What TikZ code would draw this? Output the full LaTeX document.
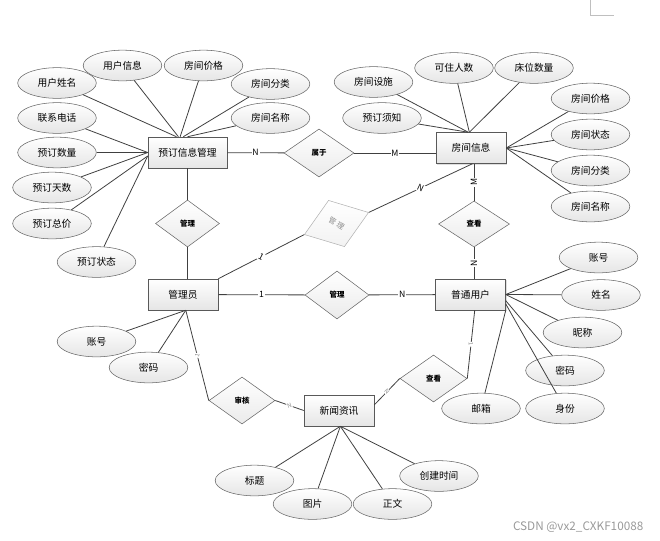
\documentclass[tikz,border=0pt]{standalone}
\usepackage{fontspec}
\setmainfont{Noto Sans CJK SC}
\usetikzlibrary{shapes.geometric,shadows}

\begin{document}
\begin{tikzpicture}[x=0.75pt,y=0.75pt,yscale=-1,xscale=1,
  entity/.style={draw=black!65, top color=white, bottom color=black!10, minimum width=52.5pt, minimum height=23.25pt, inner sep=0pt, font=\fontsize{7.3}{8}\selectfont, drop shadow={opacity=0.25,shadow xshift=0.8pt,shadow yshift=-0.8pt}},
  attrib/.style={ellipse, draw=black!60, top color=white, bottom color=black!10, minimum width=59pt, minimum height=23pt, inner sep=0pt, font=\fontsize{7.3}{8}\selectfont},
  relation/.style={diamond, draw=black!60, top color=white, bottom color=black!8, inner sep=0pt, minimum width=48pt, minimum height=35.25pt, font=\fontsize{5.6}{6}\selectfont\bfseries},
  conn/.style={draw=black!75, line width=0.6pt},
  card/.style={fill=white, inner sep=0.6pt, font=\fontsize{6.5}{7}\selectfont},
  gcard/.style={fill=white, inner sep=0.4pt, text=black!45, font=\fontsize{4.5}{5}\selectfont},
]
%uncomment if require: \path (0,540); %set diagram left start at 0, and has height of 540
\useasboundingbox (0,0) rectangle (660,540);

%Shape: corner mark
\draw [color=black!25, line width=0.75] (590,0) -- (590,15) -- (614,15);

% Entities
\node [entity, minimum width=59.25pt] (ydgl) at (187.5,152.5) {预订信息管理};
\node [entity] (fjxx) at (471,148) {房间信息};
\node [entity] (gly) at (183,294.5) {管理员};
\node [entity] (ptyh) at (470.5,294.5) {普通用户};
\node [entity] (xwzx) at (339,410.5) {新闻资讯};

% Relations
\node [relation, minimum width=52.5pt, minimum height=36pt] (sy) at (319,153) {属于};
\node [relation] (gl1) at (187.5,223.5) {管理};
\node [relation, minimum height=36pt] (gl3) at (337,295) {管理};
\node [relation, minimum width=53.25pt, minimum height=34.5pt] (ck1) at (474,224) {查看};
\node [relation, minimum width=49.5pt] (sh) at (242,400.5) {审核};
\node [relation, minimum width=50.25pt] (ck2) at (433.5,378.5) {查看};
\node [relation, draw=black!30, top color=white, bottom color=black!5, rotate=19, minimum width=51pt, minimum height=36.75pt, text=black!45, font=\fontsize{5.6}{6}\selectfont] (gl2) at (336.5,223.5) {\rotatebox{-49}{管\hspace{1.2pt}理}};

% Attributes of 预订信息管理
\node [attrib] (yhxm) at (57,83) {用户姓名};
\node [attrib] (yhxx) at (122.5,65.5) {用户信息};
\node [attrib] (fjjga) at (203.5,65.5) {房间价格};
\node [attrib] (fjfla) at (270.5,84) {房间分类};
\node [attrib] (fjmca) at (270.5,118) {房间名称};
\node [attrib] (lxdh) at (57,118) {联系电话};
\node [attrib] (ydsl) at (57,152.5) {预订数量};
\node [attrib] (ydts) at (52,187.5) {预订天数};
\node [attrib] (ydzj) at (52,223.5) {预订总价};
\node [attrib] (ydzt) at (96.5,262) {预订状态};

% Attributes of 房间信息
\node [attrib] (fjss) at (373.5,82) {房间设施};
\node [attrib] (kzrs) at (454,68) {可住人数};
\node [attrib] (cwsl) at (534,68) {床位数量};
\node [attrib] (ydxz) at (382,118) {预订须知};
\node [attrib] (fjjgb) at (590.5,98.5) {房间价格};
\node [attrib] (fjzt) at (590.5,134.5) {房间状态};
\node [attrib] (fjflb) at (590.5,170.5) {房间分类};
\node [attrib] (fjmcb) at (590.5,206.5) {房间名称};

% Attributes of 普通用户
\node [attrib] (zhb) at (598.5,257.5) {账号};
\node [attrib] (xm) at (601,295) {姓名};
\node [attrib] (nc) at (582.5,332.5) {昵称};
\node [attrib] (mmb) at (565,370.5) {密码};
\node [attrib] (sf) at (565,408.5) {身份};
\node [attrib] (yx) at (481,408.5) {邮箱};

% Attributes of 管理员
\node [attrib] (zha) at (96.5,341.5) {账号};
\node [attrib] (mma) at (148.5,367.5) {密码};

% Attributes of 新闻资讯
\node [attrib] (bt) at (254.5,480.5) {标题};
\node [attrib] (tp) at (312.5,504) {图片};
\node [attrib] (zw) at (392.5,504) {正文};
\node [attrib] (cjsj) at (439,476) {创建时间};

% Relation lines
\draw [conn] (ydgl) -- node [card] {N} (sy);
\draw [conn] (sy) -- node [card] {M} (sy -| fjxx.west);
\draw [conn] (ydgl) -- (gl1);
\draw [conn] (gl1) -- (gl1 |- gly.north);
\draw [conn] (gly.north east) -- node [card, sloped] {1} (gl2.west);
\draw [conn] (gl2.east) -- node [card, sloped] {N} (fjxx.-85);
\draw [conn] (gly) -- node [card] {1} (gl3);
\draw [conn] (gl3) -- node [card] {N} (ptyh);
\draw [conn] (ck1 |- fjxx.south) -- node [card, rotate=90] {M} (ck1);
\draw [conn] (ck1) -- node [card, rotate=90] {N} (ck1 |- ptyh.north);
\draw [conn] (gly.-80) -- node [gcard, sloped] {1} (sh.west);
\draw [conn] (sh.east) -- node [gcard, sloped] {N} (xwzx.west);
\draw [conn] (ck2.east) -- node [gcard, sloped] {1} (ptyh.-75);
\draw [conn] (ck2.west) -- node [gcard, sloped] {N} (xwzx.9);

% Attribute lines
\foreach \a/\b in {yhxm/125, yhxx/120, fjjga/115, fjfla/105, fjmca/90, lxdh/180, ydsl/180, ydts/180, ydzj/185, ydzt/185}
  \draw [conn] (\a) -- (ydgl.\b);
\foreach \a/\b in {fjss/100, ydxz/100, kzrs/96, cwsl/96, fjjgb/0, fjzt/0, fjflb/0, fjmcb/0}
  \draw [conn] (\a) -- (fjxx.\b);
\foreach \a/\b in {zhb/0, xm/0, nc/0, mmb/-10, sf/-15, yx/south east}
  \draw [conn] (\a) -- (ptyh.\b);
\foreach \a in {zha, mma}
  \draw [conn] (\a) -- (gly.-80);
\foreach \a in {bt, tp, zw, cjsj}
  \draw [conn] (\a) -- (xwzx.-85);

% Text Node
\node [anchor=east, text=black!40, font=\fontsize{8.8}{9}\selectfont] (mark) at (648,527) {CSDN @vx2\_CXKF10088};
\end{tikzpicture}
\end{document}
